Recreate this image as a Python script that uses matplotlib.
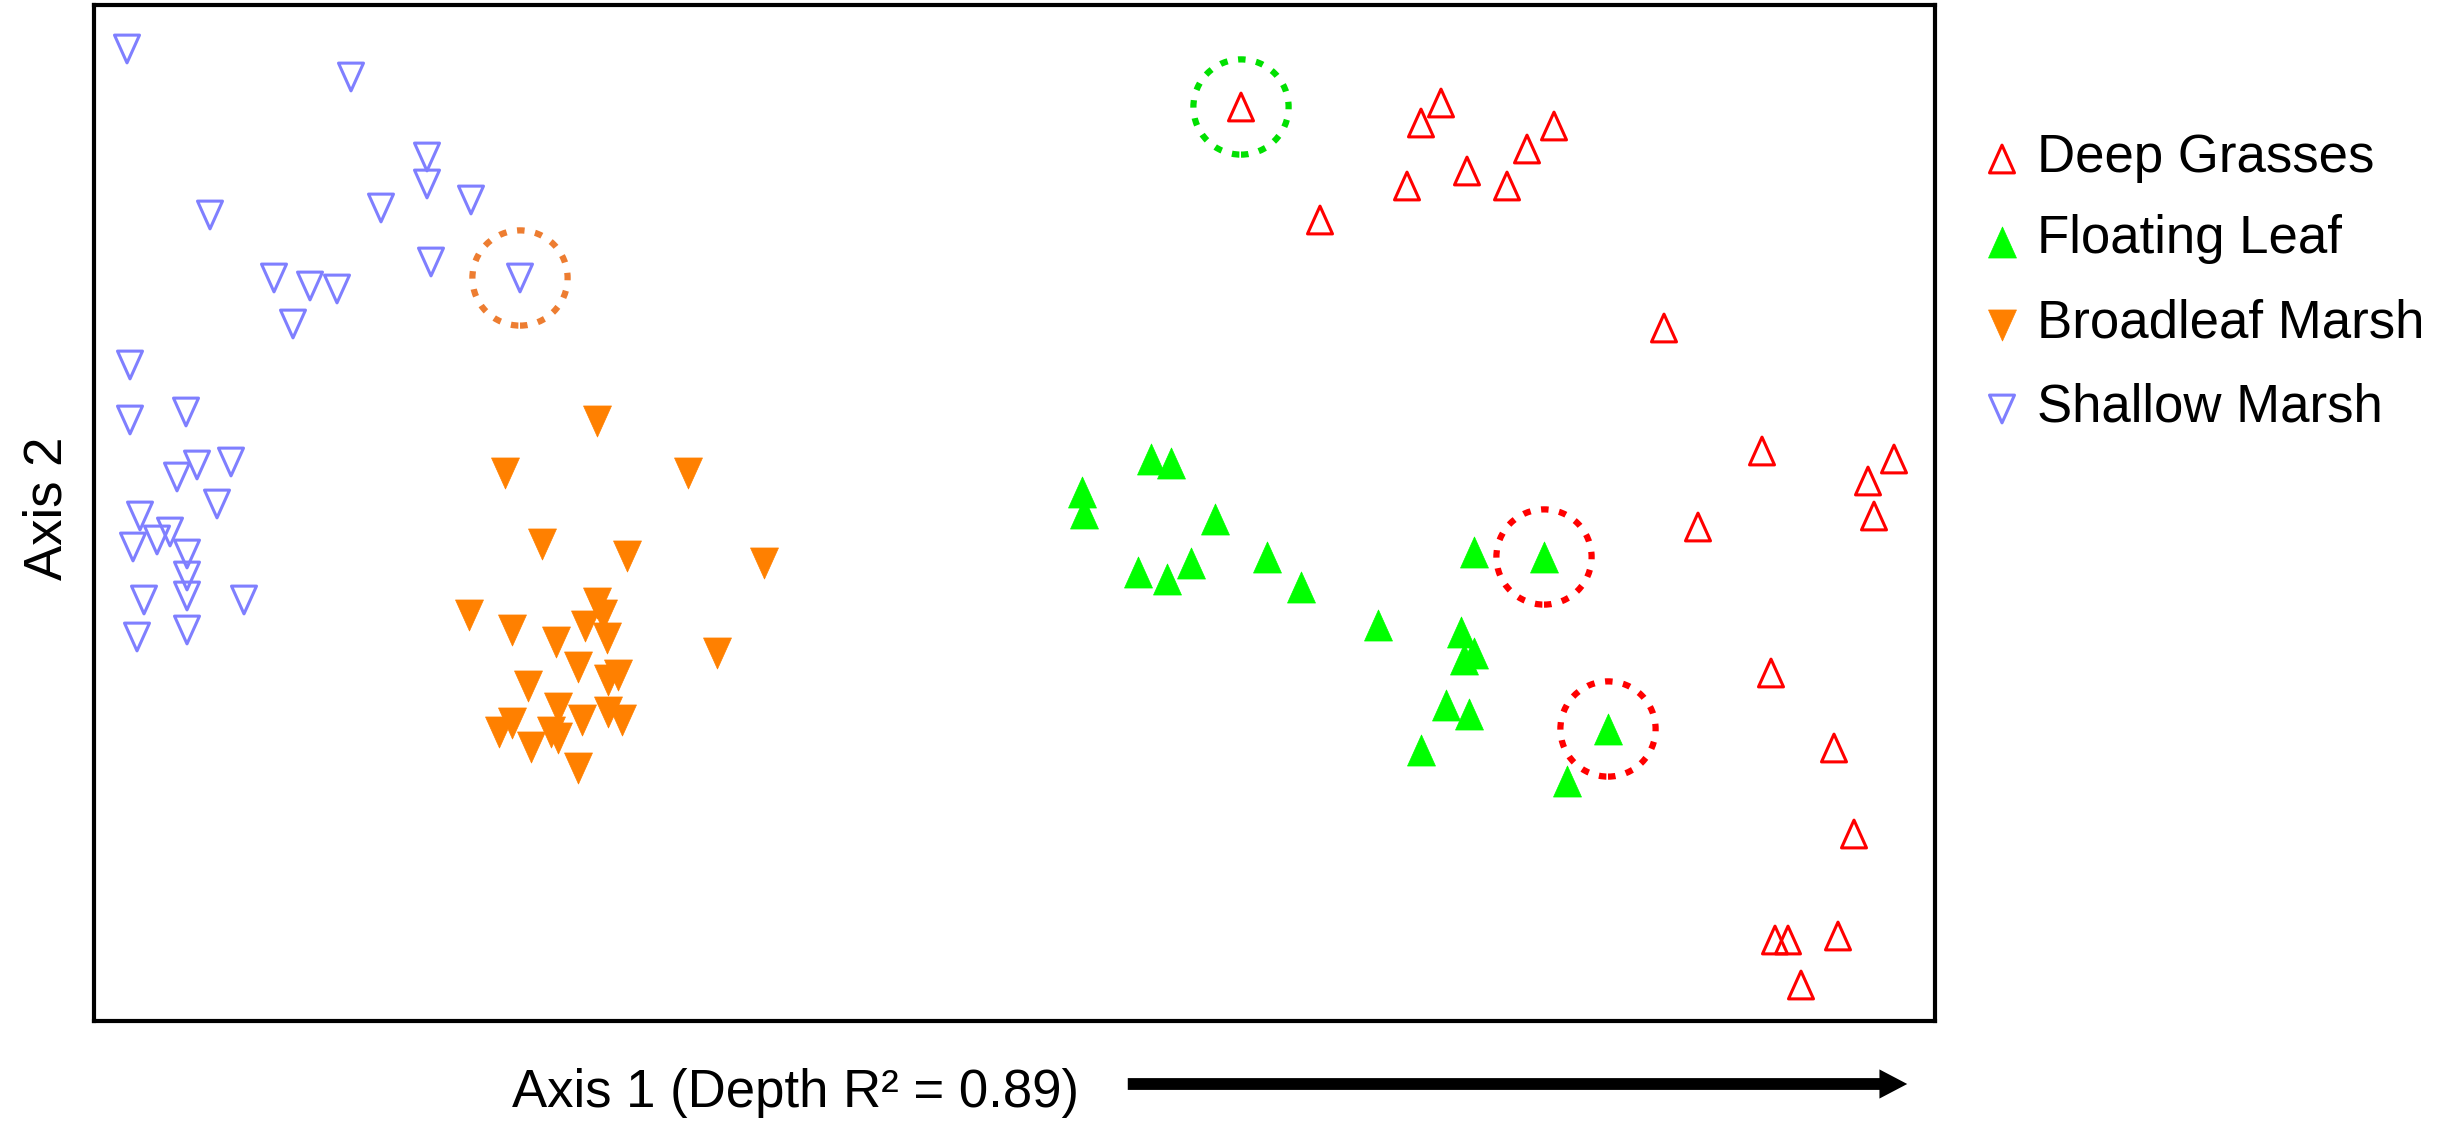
import matplotlib
matplotlib.use("Agg")
import matplotlib.pyplot as plt
from matplotlib.patches import FancyArrowPatch
from matplotlib.path import Path

plt.rcParams['font.family'] = ['Liberation Sans', 'DejaVu Sans']

# ---- data: ordination scores (arbitrary units, axis 2 increasing downward on the page scale) ----
deep_x = [1241, 1441, 1421, 1554, 1527, 1467, 1407, 1507, 1320, 1664, 1762, 1894, 1868, 1874,
          1698, 1771, 1834, 1854, 1775, 1788, 1838, 1801]
deep_y = [107, 103, 123, 126, 149, 171, 186, 186, 220, 328, 451, 459, 481, 516,
          527, 673, 748, 834, 940, 940, 936, 985]

float_x = [1151, 1171, 1082, 1084, 1215, 1138, 1191, 1167, 1267, 1301, 1474, 1544, 1378, 1461,
           1464, 1474, 1446, 1469, 1421, 1608, 1567]
float_y = [459, 463, 492, 513, 519, 572, 563, 579, 557, 587, 552, 557, 625, 632,
           659, 653, 705, 714, 750, 729, 781]

broad_x = [597, 505, 688, 542, 627, 764, 469, 512, 597, 603, 585, 556, 607, 717, 578, 618, 608,
           528, 558, 608, 622, 582, 512, 499, 551, 558, 531, 578]
broad_y = [421, 473, 473, 544, 556, 563, 615, 630, 603, 615, 626, 642, 638, 653, 667, 675, 680,
           686, 708, 712, 720, 720, 723, 732, 732, 738, 747, 768]

shallow_x = [127, 351, 427, 427, 381, 471, 210, 431, 520, 274, 310, 337, 293, 130, 130, 186, 197,
             231, 177, 217, 140, 170, 157, 133, 187, 187, 187, 144, 244, 137, 187]
shallow_y = [49, 77, 157, 184, 208, 200, 215, 262, 278, 278, 286, 289, 324, 365, 420, 412, 465,
             462, 477, 504, 516, 532, 540, 547, 554, 576, 596, 600, 600, 637, 630]

group_labels = ["Deep Grasses", "Floating Leaf", "Broadleaf Marsh", "Shallow Marsh"]

# misclassified samples highlighted with dotted circles: (group, index, circle colour)
highlights = [("shallow", 8, "#ED7D31"), ("deep", 0, "#00E000"),
              ("float", 11, "#FF0000"), ("float", 19, "#FF0000")]

x_label = "Axis 1 (Depth R\u00b2 = 0.89)"
y_label = "Axis 2"

# ---- figure ----
W, H = 2446, 1123
fig = plt.figure(figsize=(W / 100, H / 100), dpi=100)
L, R, T, B = 94, 1935, 5, 1021
ax = fig.add_axes([L / W, 1 - B / H, (R - L) / W, (B - T) / H])
ax.set_xlim(L, R)
ax.set_ylim(B, T)
ax.set_xticks([])
ax.set_yticks([])
for sp in ax.spines.values():
    sp.set_linewidth(3)
    sp.set_color("black")

up = Path([(0, 1), (-0.9, -1), (0.9, -1), (0, 1)], [1, 2, 2, 79])
down = Path([(0, -1), (-0.9, 1), (0.9, 1), (0, -1)], [1, 2, 2, 79])

styles = {
    "deep": dict(x=deep_x, y=deep_y, marker=up, fc="none", ec="#FF0000", s=400, lw=2.2),
    "float": dict(x=float_x, y=float_y, marker=up, fc="#00FF00", ec="#00FF00", s=500, lw=0.5),
    "broad": dict(x=broad_x, y=broad_y, marker=down, fc="#FF8000", ec="#FF8000", s=500, lw=0.5),
    "shallow": dict(x=shallow_x, y=shallow_y, marker=down, fc="none", ec="#7F7FFF", s=400, lw=2.2),
}
order = ["deep", "float", "broad", "shallow"]
for key in order:
    st = styles[key]
    ax.scatter(st["x"], st["y"], marker=st["marker"], s=st["s"], facecolors=st["fc"],
               edgecolors=st["ec"], linewidths=st["lw"], clip_on=False, zorder=3)

for grp, idx, col in highlights:
    st = styles[grp]
    ax.scatter([st["x"][idx]], [st["y"][idx]], marker="o", s=4700, facecolors="none",
               edgecolors=col, linewidths=4.5, linestyles=[(0, (1.2, 1.7))], zorder=4)

# ---- overlay for labels, legend and arrow (pixel coordinates) ----
ov = fig.add_axes([0, 0, 1, 1])
ov.set_xlim(0, W)
ov.set_ylim(H, 0)
ov.axis("off")

fs = 38
ov.text(47, 508, y_label, rotation=90, ha="center", va="center", fontsize=fs)
ov.text(512, 1107, x_label, ha="left", va="baseline", fontsize=fs)
arrow = FancyArrowPatch((1125, 1084), (1910, 1084), arrowstyle="simple,head_length=20,head_width=21,tail_width=8.5",
                        mutation_scale=1, color="black", lw=0)
ov.add_patch(arrow)

leg_marker_y = [159, 242, 325, 409]
leg_text_y = [172, 253, 338, 422]
for key, lab, my, ty in zip(order, group_labels, leg_marker_y, leg_text_y):
    st = styles[key]
    ov.scatter([2002], [my], marker=st["marker"], s=st["s"], facecolors=st["fc"],
               edgecolors=st["ec"], linewidths=st["lw"])
    ov.text(2037, ty, lab, ha="left", va="baseline", fontsize=fs)

fig.savefig("out.png", dpi=100)
